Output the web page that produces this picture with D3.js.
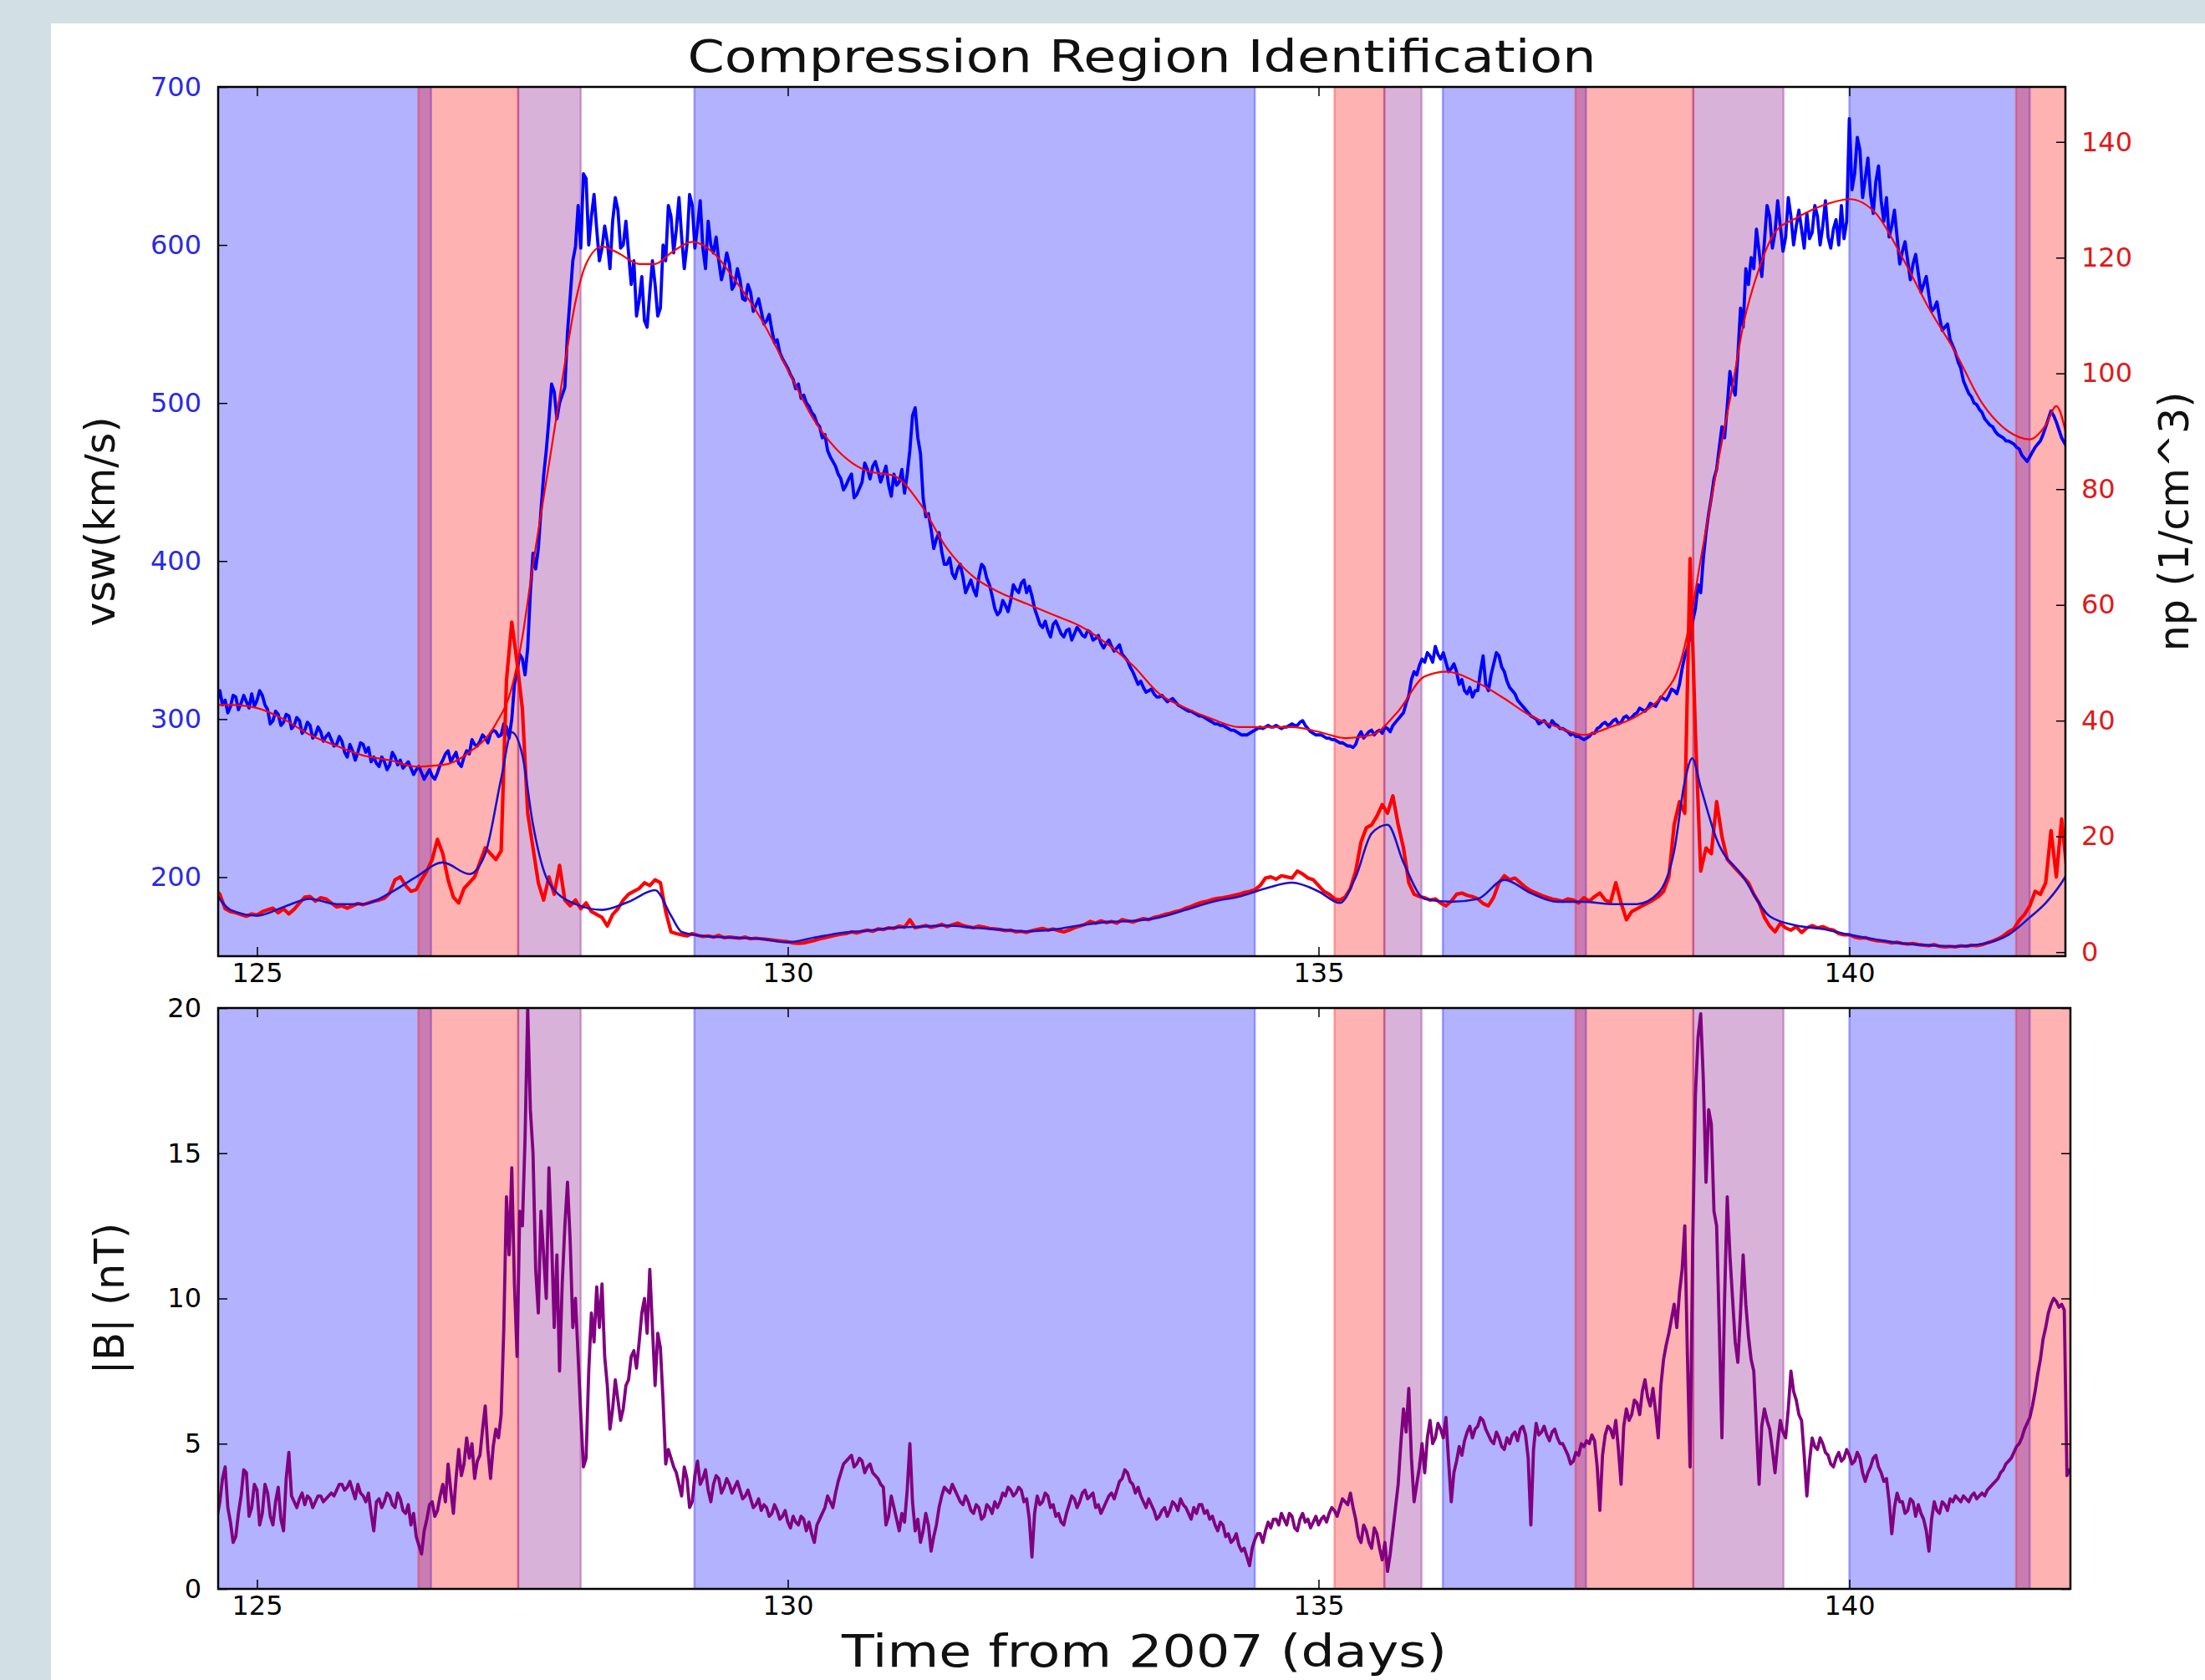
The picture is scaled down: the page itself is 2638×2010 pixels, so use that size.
<!DOCTYPE html>
<html>
<head>
<meta charset="utf-8">
<script src="https://cdn.jsdelivr.net/npm/d3@7"></script>
<style>
  html, body { margin: 0; padding: 0; background: #d2dfe4; }
  svg { display: block; }
</style>
</head>
<body>
<svg id="fig" width="2638" height="2010"></svg>
<script>
// ---- time grids of the measurements (days from 2007) ----
const DAY0 = 124.6;
const VSW_STEP = 0.025;
const NP_STEP = 0.05;
const B_STEP = 0.025;

// Solar wind speed vsw (km/s), one row per day
const vsw = [
  300,312,318,309,312,304,308,315,314,306,310,315,311,307,316,308,
  312,318,315,309,306,297,299,305,303,296,298,303,302,294,296,301,299,291,293,298,296,288,290,295,292,286,289,291,287,283,284,289,286,279,276,284,280,274,279,285,
  284,279,282,273,276,272,270,276,273,268,271,279,276,271,274,269,271,273,269,265,268,270,266,262,265,268,264,262,266,271,274,278,280,273,276,279,272,270,276,280,
  278,287,284,283,286,290,288,285,291,293,292,289,290,297,295,288,300,322,330,341,338,328,345,380,405,395,408,432,454,470,490,512,507,490,500,505,510,545,567,590,
  599,625,598,645,642,600,618,632,610,590,598,612,602,585,615,630,622,598,600,615,595,575,590,555,565,580,552,548,570,590,575,555,560,600,590,625,618,595,610,630,
  605,585,600,632,625,598,612,628,598,585,615,600,595,605,590,578,585,595,588,572,575,585,578,566,565,575,570,558,562,566,558,550,552,556,546,538,540,532,528,525,
  522,518,515,509,512,503,505,500,498,494,492,487,485,478,480,470,466,463,460,455,452,445,448,452,455,440,442,446,450,462,458,452,460,463,457,450,455,460,448,441,
  455,448,450,458,443,455,470,492,497,478,468,440,428,430,420,408,414,418,406,398,398,402,392,389,395,398,390,380,384,388,382,378,390,398,396,389,385,378,370,366,
  368,375,372,368,375,385,382,380,386,388,380,384,378,370,365,360,358,362,356,352,360,362,358,354,352,356,357,350,354,358,356,353,352,356,355,350,351,353,348,345,
  348,350,346,343,345,347,341,339,337,333,330,326,322,324,320,317,318,319,316,314,314,315,313,311,312,313,311,309,308,307,306,305,305,304,303,302,302,301,300,299,
  298,297,297,296,296,295,294,293,293,292,291,290,290,290,291,292,293,294,295,294,295,296,295,295,296,295,294,295,295,296,297,296,296,298,299,296,294,292,291,290,
  290,290,289,288,288,287,287,286,285,285,284,283,283,282,284,289,292,288,290,292,293,290,292,293,291,295,294,292,296,298,300,302,304,310,315,325,330,328,334,338,
  336,342,340,336,346,341,338,342,336,330,332,335,330,322,325,318,316,320,314,318,318,330,340,322,318,328,335,342,340,333,330,324,320,318,316,312,310,308,306,304,
  302,301,300,297,298,299,297,295,299,297,296,294,294,293,292,290,291,289,289,288,287,288,289,291,291,294,295,297,298,296,297,299,300,297,298,301,302,300,301,303,
  304,307,306,305,307,310,309,308,311,314,313,312,315,319,318,316,322,332,340,345,352,362,370,385,380,402,418,430,440,452,458,472,485,478,498,520,510,505,530,560,
  548,585,575,592,585,610,596,580,602,625,618,598,608,628,612,596,605,630,618,600,612,622,610,598,620,604,608,625,618,600,612,628,605,598,610,616,600,625,604,615,
  680,635,645,668,660,630,642,655,632,620,640,650,628,615,630,605,612,622,605,588,596,602,590,578,588,594,582,570,575,580,568,558,560,564,554,546,548,550,540,536,
  532,526,522,514,510,506,504,500,499,496,494,490,488,486,485,482,480,479,478,476,476,475,474,472,471,467,465,463,466,469,472,474,476,480,485,490,495,492,488,483,
  478,475,472,470
];

// Proton density np (1/cm^3), one row per day
const np = [
  11,10,7.5,7,6.8,6.5,6.2,6.6,
  6.4,7,7.3,7.6,6.8,7.5,6.6,7.4,8.5,9.5,9.6,8.8,9.4,9.2,8.5,7.8,8.0,7.6,8.0,8.4,
  8.2,8.5,8.8,9.0,9.3,10.2,12.5,13.0,11.5,10.5,10.8,12.5,14.0,16.0,19.5,17.0,12.5,9.5,8.5,11.0,
  12.0,13.0,15.5,18.0,17.0,16.0,17.5,47.0,57.0,50.0,42.0,24.0,18.0,12.0,9.0,13.0,10.0,15.0,9.0,8.0,
  9,7.5,8.5,7,6.5,6,4.5,6.5,7.5,9,10,10.5,11,12,11.5,12.5,12,7,3.5,3.2,
  3,2.8,3.2,2.9,2.7,2.8,2.6,2.9,2.5,2.6,2.5,2.4,2.6,2.3,2.4,2.3,2.2,2.1,2.0,1.9,
  1.8,1.6,1.5,1.6,1.8,2.0,2.3,2.5,2.7,2.9,3.1,3.2,3.5,3.3,3.6,3.8,3.6,4.0,3.9,4.2,
  4.1,4.5,4.3,5.6,4.2,4.4,4.6,4.3,4.5,4.8,4.4,4.7,5.0,4.6,4.4,4.2,4.5,4.3,4.1,4.0,
  3.9,3.7,3.8,3.5,3.6,3.4,3.7,3.9,4.1,3.8,4.0,3.7,3.5,3.8,4.2,4.5,4.8,5.3,5.0,5.4,
  5.1,5.3,5.0,5.6,5.4,5.2,5.5,5.8,5.6,6.0,6.2,6.5,6.7,7.0,7.2,7.6,7.9,8.3,8.6,8.8,
  9.1,9.3,9.4,9.6,9.8,10.0,10.3,10.5,10.8,11.5,12.8,13.0,12.6,13.2,13.0,12.8,14.0,13.5,12.8,12.5,
  11.5,10.5,10.0,9.2,9.0,9.5,11.0,14.0,19.0,21.5,22.0,23.5,25.5,24.0,27.0,22.0,18.0,12.0,10.0,9.6,
  9.4,9.0,9.2,8.5,8.0,8.8,10.0,10.2,9.8,9.6,9.2,8.4,8.0,9.5,12.0,13.2,12.5,12.8,12.0,11.2,
  10.6,10.2,9.8,9.5,9.2,9.0,8.8,9.2,9.0,8.5,9.4,8.8,9.6,10.2,9.0,8.6,12.0,8.5,5.6,7.0,
  7.5,8,8.5,9,9.6,10.5,13,22,26,24,68,38,14,18,17,26,20,16,15,14,
  13,12,10,8.5,6,4.5,3.5,5,4.2,3.8,4.4,3.4,4.2,4.6,4.2,4.4,4.0,3.8,3.2,3.0,
  3.0,2.6,2.4,2.5,2.2,2.0,1.9,1.8,1.6,1.7,1.5,1.4,1.5,1.3,1.2,1.1,1.3,1.0,0.9,1.0,
  0.9,1.1,1.0,1.2,1.1,1.3,1.6,1.9,2.3,2.8,3.5,4.0,5.5,6.5,8.0,10.5,10,12,21,13,
  23,14
];

// Magnetic field magnitude |B| (nT), one row per day
const bmag = [
  4.6,2.5,3.0,3.8,4.2,2.8,2.3,1.6,1.8,2.6,3.2,4.1,4.0,2.5,2.8,3.6,
  3.4,2.2,2.6,3.6,3.3,2.5,2.2,3.0,3.5,2.4,2.0,3.8,4.7,3.2,3.0,2.8,3.1,3.3,2.9,3.2,3.1,2.8,3.0,3.2,3.2,3.0,3.1,3.2,3.3,3.2,3.4,3.6,3.6,3.4,3.5,3.7,3.4,3.1,3.6,3.3,
  3.2,3.0,3.3,2.6,2.0,3.0,3.1,2.8,3.0,3.3,3.2,2.9,2.8,3.3,3.1,2.7,2.6,2.9,2.2,2.6,1.8,1.5,1.2,2.0,2.4,2.9,3.0,2.5,2.7,3.2,3.6,3.0,4.3,3.4,2.6,3.8,4.8,3.9,4.3,5.2,
  4.5,5.0,3.8,4.4,4.6,5.5,6.3,4.8,3.8,4.9,5.5,5.2,6.0,9.0,13.5,11.5,14.5,10.5,8.0,13.0,12.5,15.5,20.0,16.5,15.0,11.0,9.5,13.0,11.5,10.0,14.5,12.0,9.0,11.5,7.5,10.5,12.5,14.0,12.0,9.0,
  10,8,6,4.2,4.5,7.5,9.5,8.5,10.4,9.0,10.5,8.0,7,5.5,6.2,7.2,6.5,5.8,6.2,7.0,7.2,8.0,8.2,7.6,8.5,9.5,10,8.8,11,9.0,7,8.8,8.3,6.5,4.3,4.8,4.5,4.2,4.0,3.6,
  3.2,4.2,3.8,2.8,3.0,3.9,4.4,3.6,3.8,4.1,3.4,3.0,3.6,3.9,3.8,3.3,3.5,3.8,3.6,3.3,3.5,3.7,3.4,3.1,3.2,3.4,3.1,2.8,2.9,3.1,2.7,2.9,2.8,2.5,2.6,2.9,2.7,2.4,2.5,2.7,
  2.3,2.1,2.5,2.3,2.2,2.5,2.4,2.0,2.3,1.9,1.6,2.2,2.4,2.6,2.8,3.2,3.0,2.8,3.3,3.7,4.0,4.3,4.4,4.5,4.6,4.2,4.3,4.5,4.4,4.0,4.2,4.3,4.0,3.9,3.8,3.6,3.5,2.2,2.5,3.2,
  2.8,2.4,2.0,2.6,2.3,3.4,5.0,3.0,2.0,2.4,1.6,2.0,2.6,2.2,1.3,1.8,2.2,2.8,3.2,3.5,3.4,3.3,3.6,3.4,3.2,3.0,2.9,3.2,3.0,2.7,2.6,2.9,2.8,2.4,2.5,2.9,2.8,2.6,3.0,2.8,
  3.0,3.3,3.2,3.5,3.4,3.2,3.3,3.5,3.4,3.0,3.1,2.4,1.1,2.6,3.2,2.9,3.0,3.3,3.2,2.8,2.9,2.5,2.6,2.3,2.2,2.6,2.9,3.2,3.1,2.8,3.0,3.3,3.4,3.1,3.2,3.3,2.8,2.9,2.6,2.8,
  3.0,3.2,3.3,3.1,3.4,3.7,3.8,4.1,4.0,3.7,3.6,3.3,3.5,3.2,3.0,2.8,3.1,2.9,2.7,2.4,2.5,2.7,2.8,2.5,2.7,3.0,2.9,2.7,3.1,2.9,2.8,2.6,2.4,2.8,2.6,2.9,2.9,2.6,2.7,2.4,
  2.5,2.2,2.0,2.3,2.2,1.8,1.9,1.6,1.7,1.9,1.5,1.3,1.4,1.1,0.8,1.4,1.7,1.9,1.9,1.6,2.0,2.3,2.1,2.4,2.4,2.2,2.6,2.4,2.2,2.6,2.5,2.1,2.0,2.4,2.6,2.3,2.4,2.1,2.3,2.5,
  2.2,2.4,2.5,2.3,2.6,2.8,2.7,2.5,2.8,3.1,3.0,2.9,3.3,2.8,2.4,1.8,1.6,2.2,2.0,1.6,1.4,2.1,1.9,1.4,1.0,1.6,0.6,1.2,2.0,2.8,3.6,5.0,6.2,5.4,6.9,4.5,3.0,3.6,4.2,5.0,
  4.0,5.2,5.8,5.0,5.2,5.7,5.5,5.2,5.9,4.4,3.0,4.0,4.4,4.9,4.6,5.1,5.4,5.6,5.2,5.5,5.6,5.9,5.8,5.5,5.3,5.1,5.0,5.4,5.2,4.9,4.8,5.2,5.0,5.3,5.4,5.1,5.5,5.6,5.3,4.5,
  2.2,4.8,5.7,5.3,5.4,5.6,5.3,5.1,5.4,5.5,5.2,5.0,5.0,4.8,4.6,4.3,4.4,4.7,4.6,5.0,4.9,5.1,5.0,5.3,5.1,4.2,2.7,4.6,5.3,5.6,5.5,5.2,5.8,4.8,3.6,5.6,6.2,5.8,6.0,6.5,
  6.4,6.0,6.8,7.2,6.6,6.3,6.9,6.1,5.2,7.0,7.9,8.4,8.8,9.3,9.8,9.0,10.2,11.0,12.5,8.0,4.2,12.0,17.0,19.0,19.8,17.5,14.0,16.5,16.0,13.0,12.5,9.0,5.2,10.0,13.5,11.5,10.0,8.5,7.8,9.5,
  11.5,9.8,8.7,7.9,7.5,5.5,3.6,5.6,6.2,5.8,5.5,4.8,4.0,5.0,5.8,5.4,5.2,6.2,7.5,6.8,6.5,6.0,5.8,4.6,3.2,4.4,5.2,4.9,4.8,5.2,5.0,4.7,4.6,4.3,4.2,4.5,4.7,4.4,4.5,4.8,
  4.6,4.3,4.4,4.7,4.5,4.0,3.7,4.0,4.2,4.5,4.6,4.2,4.0,3.7,3.8,3.0,1.9,2.8,3.3,3.0,3.0,2.6,2.7,3.1,3.0,2.5,2.9,2.6,2.4,2.0,1.3,2.4,3.0,2.7,2.6,3.0,2.9,2.7,3.1,3.0,
  3.2,3.1,3.0,3.2,3.1,3.0,3.2,3.3,3.1,3.2,3.3,3.2,3.4,3.5,3.6,3.7,3.8,4.0,4.1,4.3,4.4,4.5,4.7,4.9,5.0,5.2,5.5,5.7,5.9,6.3,6.8,7.4,7.9,8.6,9.0,9.5,9.8,10.0,9.9,9.7,
  9.8,9.6,3.9,4.1,4.0
];

// Smoothed trends: [day, value]
const vswTrend = [
  [124.6,309],[124.75,309],[125,307],[125.25,300],[125.5,290],[125.75,283],[126,277],[126.25,274],
  [126.5,270],[126.75,271],[127,279],[127.25,297],[127.4,320],[127.5,352],[127.6,398],[127.75,461],
  [127.9,525],[128,564],[128.1,588],[128.25,599],[128.4,595],[128.6,588],[128.75,588],[128.9,595],
  [129.1,602],[129.3,595],[129.5,578],[129.75,553],[130,521],[130.25,489],[130.5,468],[130.75,457],
  [131,454],[131.25,436],[131.5,408],[131.75,390],[132,380],[132.25,373],[132.5,366],[132.75,359],
  [133,348],[133.25,334],[133.5,316],[133.75,307],[134,300],[134.25,295],[134.5,295],[134.75,295],
  [135,292],[135.25,288],[135.5,290],[135.75,305],[136,327],[136.2,330],[136.5,323],[136.75,313],
  [137,302],[137.25,295],[137.5,290],[137.75,295],[138,302],[138.25,316],[138.4,334],[138.5,362],
  [138.6,401],[138.75,458],[138.9,511],[139,549],[139.15,585],[139.3,608],[139.5,617],[139.75,625],
  [140,629],[140.25,620],[140.5,592],[140.75,560],[141,532],[141.25,500],[141.5,482],[141.7,477],
  [141.85,486],[141.95,498],[142.05,478]
];
const npTrend = [
  [124.6,10.5],[124.75,7.3],[125,6.3],[125.25,7.8],[125.5,9.2],[125.75,8.3],[126,8.3],[126.25,10.2],
  [126.5,13],[126.75,15.5],[127,13.5],[127.15,17],[127.3,30],[127.4,38],[127.5,34],[127.6,22],
  [127.75,12],[128,8.3],[128.25,7.3],[128.5,8.7],[128.75,10.7],[128.9,6.3],[129,3.5],[129.25,2.7],
  [129.5,2.5],[129.75,2.3],[130,1.7],[130.25,2.5],[130.5,3.3],[130.75,3.7],[131,4.2],[131.25,4.4],
  [131.5,4.6],[131.75,4.2],[132,3.9],[132.25,3.6],[132.5,3.9],[132.75,4.6],[133,5.2],[133.25,5.4],
  [133.5,6],[133.75,7.3],[134,8.7],[134.25,9.6],[134.5,11],[134.75,12],[135,10.5],[135.2,8.5],
  [135.35,13],[135.5,20.5],[135.65,22],[135.8,15.5],[136,9.2],[136.25,8.7],[136.5,9.2],[136.75,12.5],
  [137,10.2],[137.25,8.7],[137.5,8.7],[137.75,8.3],[138,8.3],[138.2,10.2],[138.35,17.5],[138.45,29.5],
  [138.52,33.5],[138.6,28.5],[138.75,19.5],[139,13],[139.25,6.2],[139.5,4.6],[139.75,4],[140,3],
  [140.25,2.2],[140.5,1.5],[140.75,1.2],[141,1],[141.25,1.4],[141.5,3],[141.7,6],[141.85,8.5],
  [142,12],[142.05,13.5]
];

// Identified intervals: [start day, end day]
const rarefactionSpans  = [[124.4,126.64],[129.12,134.40],[136.17,137.52],[140.0,141.70]];
const compressionSpans  = [[126.52,127.46],[135.15,135.62],[137.42,138.53],[141.57,142.4]];
const interfaceSpans    = [[127.46,128.05],[135.62,135.97],[138.53,139.38]];

// Tick values
const xTicks   = [125, 130, 135, 140];
const vswTicks = [200, 300, 400, 500, 600, 700];
const npTicks  = [0, 20, 40, 60, 80, 100, 120, 140];
const bTicks   = [0, 5, 10, 15, 20];

// ---- layout ----
const W = 2638, H = 2010;
const FONT = "DejaVu Sans";
const P1 = {left: 261, right: 2471, top: 104, bottom: 1144};
const P2 = {left: 261, right: 2477, top: 1206, bottom: 1901};
const PX_PER_DAY = 127;
const X0 = 124.634;

const svg = d3.select("#fig");
svg.append("rect").attr("width", W).attr("height", H).attr("fill", "#d2dfe4");
svg.append("rect").attr("x", 61).attr("y", 28).attr("width", W - 61).attr("height", H - 28).attr("fill", "#ffffff");

const x1 = d3.scaleLinear().domain([X0, X0 + (P1.right - P1.left) / PX_PER_DAY]).range([P1.left, P1.right]);
const x2 = d3.scaleLinear().domain([X0, X0 + (P2.right - P2.left) / PX_PER_DAY]).range([P2.left, P2.right]);
const yV = d3.scaleLinear().domain([150, 700]).range([P1.bottom, P1.top]);
const yN = d3.scaleLinear().domain([-0.7, 149.5]).range([P1.bottom, P1.top]);
const yB = d3.scaleLinear().domain([0, 20]).range([P2.bottom, P2.top]);

const asPoints = (arr, step) => arr.map((v, i) => [DAY0 + i * step, v]);

const defs = svg.append("defs");
defs.append("clipPath").attr("id", "clip1").append("rect")
  .attr("x", P1.left).attr("y", P1.top).attr("width", P1.right - P1.left).attr("height", P1.bottom - P1.top);
defs.append("clipPath").attr("id", "clip2").append("rect")
  .attr("x", P2.left).attr("y", P2.top).attr("width", P2.right - P2.left).attr("height", P2.bottom - P2.top);

function drawSpans(g, x, P) {
  const groups = [
    [rarefactionSpans, "#0000ff"],
    [compressionSpans, "#ff0000"],
    [interfaceSpans, "#800080"]
  ];
  groups.forEach(([spans, color]) => {
    g.selectAll(null).data(spans).join("rect")
      .attr("x", d => x(d[0]))
      .attr("width", d => x(d[1]) - x(d[0]))
      .attr("y", P.top - 5)
      .attr("height", P.bottom - P.top + 10)
      .attr("fill", color).attr("fill-opacity", 0.3)
      .attr("stroke", color).attr("stroke-opacity", 0.3).attr("stroke-width", 2.5);
  });
}

function styleAxis(g, color, showLabels) {
  g.attr("font-family", FONT).attr("font-size", 32);
  g.select(".domain").remove();
  g.selectAll(".tick line").attr("stroke", "#000").attr("stroke-width", 1.5);
  g.selectAll(".tick text").attr("fill", color);
  if (!showLabels) g.selectAll(".tick text").remove();
}

// ================= top panel =================
const g1 = svg.append("g");
const plot1 = g1.append("g").attr("clip-path", "url(#clip1)");
drawSpans(plot1, x1, P1);

const lineV = d3.line().x(d => x1(d[0])).y(d => yV(d[1]));
const lineN = d3.line().x(d => x1(d[0])).y(d => yN(d[1]));
const smoothV = d3.line().x(d => x1(d[0])).y(d => yV(d[1])).curve(d3.curveMonotoneX);
const smoothN = d3.line().x(d => x1(d[0])).y(d => yN(d[1])).curve(d3.curveMonotoneX);

plot1.append("path").attr("d", lineV(asPoints(vsw, VSW_STEP)))
  .attr("fill", "none").attr("stroke", "#0000ff").attr("stroke-width", 3.8).attr("stroke-linejoin", "round");
plot1.append("path").attr("d", smoothV(vswTrend))
  .attr("fill", "none").attr("stroke", "#ff0000").attr("stroke-width", 2.2);
plot1.append("path").attr("d", lineN(asPoints(np, NP_STEP)))
  .attr("fill", "none").attr("stroke", "#ff0000").attr("stroke-width", 4.2).attr("stroke-linejoin", "round");
plot1.append("path").attr("d", smoothN(npTrend))
  .attr("fill", "none").attr("stroke", "#1a10c8").attr("stroke-width", 2.6);

// axes of the top panel
g1.append("g").attr("transform", `translate(0,${P1.bottom})`)
  .call(d3.axisBottom(x1).tickValues(xTicks).tickSizeInner(-11).tickSizeOuter(0).tickPadding(8).tickFormat(d3.format("d")))
  .call(g => styleAxis(g, "#000", true));
g1.append("g").attr("transform", `translate(0,${P1.top})`)
  .call(d3.axisTop(x1).tickValues(xTicks).tickSizeInner(-11).tickSizeOuter(0))
  .call(g => styleAxis(g, "#000", false));
g1.append("g").attr("transform", `translate(${P1.left},0)`)
  .call(d3.axisLeft(yV).tickValues(vswTicks).tickSizeInner(-11).tickSizeOuter(0).tickPadding(20).tickFormat(d3.format("d")))
  .call(g => styleAxis(g, "#2a2ae6", true));
g1.append("g").attr("transform", `translate(${P1.right},0)`)
  .call(d3.axisRight(yN).tickValues(npTicks).tickSizeInner(-11).tickSizeOuter(0).tickPadding(19).tickFormat(d3.format("d")))
  .call(g => styleAxis(g, "#e01a1a", true));
g1.append("rect").attr("x", P1.left).attr("y", P1.top)
  .attr("width", P1.right - P1.left).attr("height", P1.bottom - P1.top)
  .attr("fill", "none").attr("stroke", "#000").attr("stroke-width", 2.5);

// ================= bottom panel =================
const g2 = svg.append("g");
const plot2 = g2.append("g").attr("clip-path", "url(#clip2)");
drawSpans(plot2, x2, P2);
const lineB = d3.line().x(d => x2(d[0])).y(d => yB(d[1]));
plot2.append("path").attr("d", lineB(asPoints(bmag, B_STEP)))
  .attr("fill", "none").attr("stroke", "#800080").attr("stroke-width", 3.8).attr("stroke-linejoin", "round");

g2.append("g").attr("transform", `translate(0,${P2.bottom})`)
  .call(d3.axisBottom(x2).tickValues(xTicks).tickSizeInner(-11).tickSizeOuter(0).tickPadding(8).tickFormat(d3.format("d")))
  .call(g => styleAxis(g, "#000", true));
g2.append("g").attr("transform", `translate(0,${P2.top})`)
  .call(d3.axisTop(x2).tickValues(xTicks).tickSizeInner(-11).tickSizeOuter(0))
  .call(g => styleAxis(g, "#000", false));
g2.append("g").attr("transform", `translate(${P2.left},0)`)
  .call(d3.axisLeft(yB).tickValues(bTicks).tickSizeInner(-11).tickSizeOuter(0).tickPadding(20).tickFormat(d3.format("d")))
  .call(g => styleAxis(g, "#000", true));
g2.append("g").attr("transform", `translate(${P2.right},0)`)
  .call(d3.axisRight(yB).tickValues(bTicks).tickSizeInner(-11).tickSizeOuter(0))
  .call(g => styleAxis(g, "#000", false));
g2.append("rect").attr("x", P2.left).attr("y", P2.top)
  .attr("width", P2.right - P2.left).attr("height", P2.bottom - P2.top)
  .attr("fill", "none").attr("stroke", "#000").attr("stroke-width", 2.5);

// ================= titles and labels =================
// horizontal titles are set in a slightly widened face
svg.append("text").attr("x", (P1.left + P1.right) / 2).attr("y", 86)
  .attr("text-anchor", "middle").attr("font-family", FONT).attr("font-size", 54).attr("fill", "#111")
  .attr("textLength", 1087).attr("lengthAdjust", "spacingAndGlyphs")
  .text("Compression Region Identification");
svg.append("text").attr("x", (P2.left + P2.right) / 2).attr("y", 1994)
  .attr("text-anchor", "middle").attr("font-family", FONT).attr("font-size", 54).attr("fill", "#111")
  .attr("textLength", 724).attr("lengthAdjust", "spacingAndGlyphs")
  .text("Time from 2007 (days)");
svg.append("text").attr("transform", `translate(137,${(P1.top + P1.bottom) / 2}) rotate(-90)`)
  .attr("text-anchor", "middle").attr("font-family", FONT).attr("font-size", 49).attr("fill", "#111")
  .text("vsw(km/s)");
svg.append("text").attr("transform", `translate(2618,${(P1.top + P1.bottom) / 2}) rotate(-90)`)
  .attr("text-anchor", "middle").attr("font-family", FONT).attr("font-size", 49).attr("fill", "#111")
  .text("np (1/cm^3)");
svg.append("text").attr("transform", `translate(148,${(P2.top + P2.bottom) / 2}) rotate(-90)`)
  .attr("text-anchor", "middle").attr("font-family", FONT).attr("font-size", 49).attr("fill", "#111")
  .text("|B| (nT)");
</script>
</body>
</html>
